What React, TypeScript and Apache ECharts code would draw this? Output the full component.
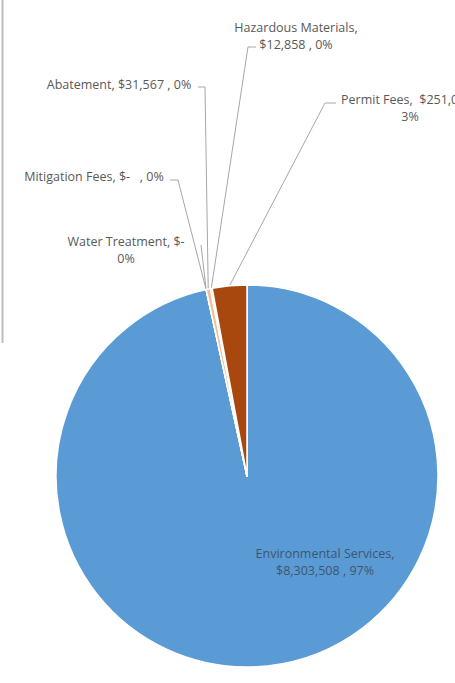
import React, { useEffect, useRef } from 'react';
import * as echarts from 'echarts';

const categories = ['Environmental Services', 'Water Treatment', 'Mitigation Fees', 'Abatement', 'Hazardous Materials', 'Permit Fees'];
const values = [8303508, 0, 0, 31567, 12858, 251042];
const sliceColors = ['#5B9BD5', '#ED7D31', '#A5A5A5', '#F4BE96', '#FAD9C2', '#A9480E'];
const labelTemplates = [
  '{name},\n{money} , {pct}',
  '{name}, {money}\n{pct}',
  '{name}, {money}   , {pct}',
  '{name}, {money} , {pct}',
  '{name},\n{money} , {pct}',
  '{name},  {money} ,\n{pct}',
];

// label centres and leader bend points (layout only)
const labelPos = [[325, 562], [126, 250], [94, 176], [119, 84], [296, 36], [410, 108]];
const leaderBends = [[], [[201, 245]], [[178, 180], [170, 180]], [[205, 87], [198, 87]], [[248, 47], [256, 47]], [[325, 103], [336, 103]]];

const total = values.reduce((a, b) => a + b, 0);
const money = (v: number) => (v === 0 ? '$-' : '$' + v.toLocaleString('en-US'));
const pct = (v: number) => Math.round((v / total) * 100) + '%';

export default function App() {
  const ref = useRef<HTMLDivElement>(null);
  useEffect(() => {
    document.body.style.margin = '0';
    const chart = echarts.init(ref.current!, null, { renderer: 'svg' });
    chart.setOption({
      animation: false,
      backgroundColor: '#ffffff',
      graphic: [
        { type: 'line', shape: { x1: 2.5, y1: 0, x2: 2.5, y2: 343 }, style: { stroke: '#BDBDBD', lineWidth: 2 } },
      ],
      series: [
        {
          type: 'pie',
          center: [247, 476],
          radius: 191,
          startAngle: 90,
          clockwise: true,
          avoidLabelOverlap: false,
          minShowLabelAngle: 0,
          itemStyle: { borderColor: '#ffffff', borderWidth: 1.5 },
          label: {
            show: true,
            position: 'outside',
            fontFamily: '"Open Sans", "Liberation Sans", sans-serif',
            fontSize: 12.5,
            lineHeight: 17,
            color: '#595959',
            align: 'center',
            formatter: (p: any) => {
              const i = p.dataIndex;
              return labelTemplates[i]
                .replace('{name}', categories[i])
                .replace('{money}', money(values[i]))
                .replace('{pct}', pct(values[i]));
            },
          },
          labelLine: { show: true, lineStyle: { color: '#A6A6A6', width: 1 } },
          labelLayout: (params: any) => {
            const i = params.dataIndex;
            const pts = params.labelLinePoints;
            const res: any = {
              x: labelPos[i][0],
              y: labelPos[i][1],
              align: 'center',
              verticalAlign: 'middle',
            };
            if (leaderBends[i].length && pts && pts.length) {
              res.labelLinePoints = [pts[0], ...leaderBends[i]];
            }
            return res;
          },
          data: categories.map((name, i) => ({
            name,
            value: values[i],
            itemStyle: { color: sliceColors[i] },
            ...(i === 0
              ? { label: { position: 'inside', color: '#3B5670' }, labelLine: { show: false } }
              : {}),
          })),
        },
      ],
    });
    return () => chart.dispose();
  }, []);
  return <div ref={ref} style={{ width: 455, height: 683 }} />;
}
